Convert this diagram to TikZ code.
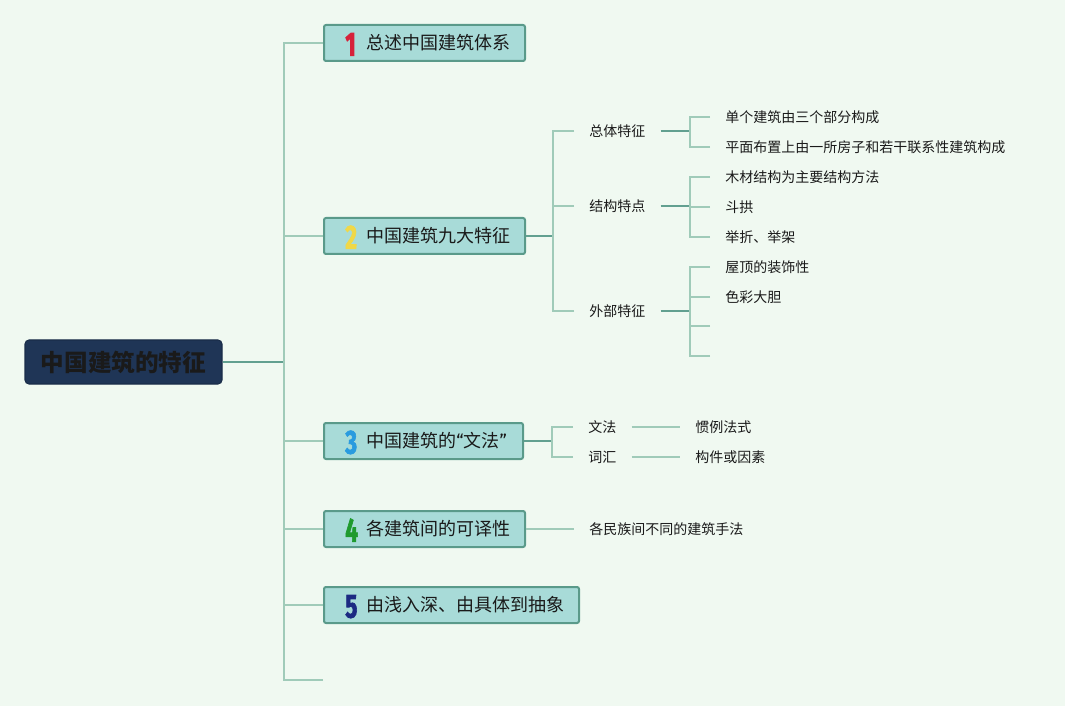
\documentclass[tikz,border=0pt]{standalone}
\usepackage{fontspec}
\setmainfont{Noto Sans CJK SC}
\newfontfamily\numfont{Fira Sans}[BoldFeatures={FakeBold=2.5}]
\newfontfamily\quotefont{Fira Sans}
\definecolor{bg}{RGB}{240,249,241}
\definecolor{boxfill}{RGB}{168,219,216}
\definecolor{boxline}{RGB}{90,154,138}
\definecolor{brl}{RGB}{160,203,185}
\definecolor{dkl}{RGB}{98,160,144}
\definecolor{rootfill}{RGB}{31,53,86}
\definecolor{txt}{RGB}{26,26,26}
\definecolor{nred}{RGB}{214,33,58}
\definecolor{nyellow}{RGB}{240,216,72}
\definecolor{nblue}{RGB}{42,155,223}
\definecolor{ngreen}{RGB}{31,154,46}
\definecolor{nnavy}{RGB}{28,42,130}
\newcommand\numb[2]{\noindent\hspace*{16pt}\makebox[15.75pt][l]{\smash{\raisebox{-4.3pt}{\color{#1}\numfont\bfseries\fontsize{25pt}{25pt}\selectfont\scalebox{0.68}[1]{#2}}}}}
\begin{document}
\begin{tikzpicture}[x=0.75pt,y=-0.75pt,
  rootbox/.style={fill=rootfill, draw=rootfill!85!black, line width=0.8pt, rounded corners=3pt,
    minimum width=147.75pt, minimum height=33pt, inner sep=0pt,
    font=\bfseries\fontsize{17.7pt}{20pt}\selectfont, text=txt},
  box/.style={draw=boxline, fill=boxfill, line width=1.5pt, rounded corners=1.5pt,
    minimum height=27pt, inner xsep=0pt, inner ysep=0pt, anchor=west, align=left,
    font=\fontsize{13.5pt}{16pt}\selectfont, text=txt},
  sub/.style={anchor=west, inner xsep=11.25pt, inner ysep=2pt,
    font=\fontsize{10.5pt}{12pt}\selectfont, text=txt},
  branch/.style={draw=brl, line width=1.5pt},
  conn/.style={draw=dkl, line width=1.6pt},
]
\fill[bg] (0,0) rectangle (1065,706);
\useasboundingbox (0,0) rectangle (1065,706);

% root
\node[rootbox] (root) at (123.5,362) {中国建筑的特征};
\coordinate (T) at (284,362);

% level 1 boxes
\node[box, text width=150.75pt] (b1) at (323,43) {\numb{nred}{1}总述中国建筑体系};
\node[box, text width=150.75pt] (b2) at (323,236) {\numb{nyellow}{2}中国建筑九大特征};
\node[box, text width=149.25pt] (b3) at (323,441) {\numb{nblue}{3}中国建筑的{\quotefont “}文法{\quotefont ”}};
\node[box, text width=150.75pt] (b4) at (323,529) {\numb{ngreen}{4}各建筑间的可译性};
\node[box, text width=191.25pt] (b5) at (323,605) {\numb{nnavy}{5}由浅入深、由具体到抽象};
\coordinate (b6) at (323,680);

\draw[conn] (root.east) -- (T);
\foreach \b in {b1,b2,b3,b4,b5} \draw[branch] (\b.west) -| (T);
\draw[branch] (b6) -| (T);

% box 2 subtree
\node[sub] (s1) at (574,131) {总体特征};
\node[sub] (s2) at (574,206) {结构特点};
\node[sub] (s3) at (574,311) {外部特征};
\coordinate (J2) at (553,236);
\draw[conn] (b2.east) -- (J2);
\foreach \s in {s1,s2,s3} \draw[branch] (\s.west) -| (J2);

\node[sub] (l1) at (710,117) {单个建筑由三个部分构成};
\node[sub] (l2) at (710,147) {平面布置上由一所房子和若干联系性建筑构成};
\node[sub] (l3) at (710,177) {木材结构为主要结构方法};
\node[sub] (l4) at (710,207) {斗拱};
\node[sub] (l5) at (710,237) {举折、举架};
\node[sub] (l6) at (710,267) {屋顶的装饰性};
\node[sub] (l7) at (710,297) {色彩大胆};
\coordinate (l8) at (710,326);
\coordinate (l9) at (710,356);

\coordinate (K1) at (690,131);
\coordinate (K2) at (690,206);
\coordinate (K3) at (690,311);
\draw[conn] (s1.east) -- (K1);
\draw[conn] (s2.east) -- (K2);
\draw[conn] (s3.east) -- (K3);
\foreach \l in {l1,l2} \draw[branch] (\l.west) -| (K1);
\foreach \l in {l3,l4,l5} \draw[branch] (\l.west) -| (K2);
\foreach \l in {l6,l7} \draw[branch] (\l.west) -| (K3);
\draw[branch] (l8) -| (K3);
\draw[branch] (l9) -| (K3);

% box 3 subtree
\node[sub] (w1) at (573,427) {文法};
\node[sub] (w2) at (573,457) {词汇};
\coordinate (J3) at (552,441);
\draw[conn] (b3.east) -- (J3);
\draw[branch] (w1.west) -| (J3);
\draw[branch] (w2.west) -| (J3);
\node[sub] (v1) at (680,427) {惯例法式};
\node[sub] (v2) at (680,457) {构件或因素};
\draw[branch] (w1.east) -- (v1.west);
\draw[branch] (w2.east) -- (v2.west);

% box 4 subtree
\node[sub] (m4) at (574,529) {各民族间不同的建筑手法};
\draw[branch] (b4.east) -- (m4.west);
\end{tikzpicture}
\end{document}
